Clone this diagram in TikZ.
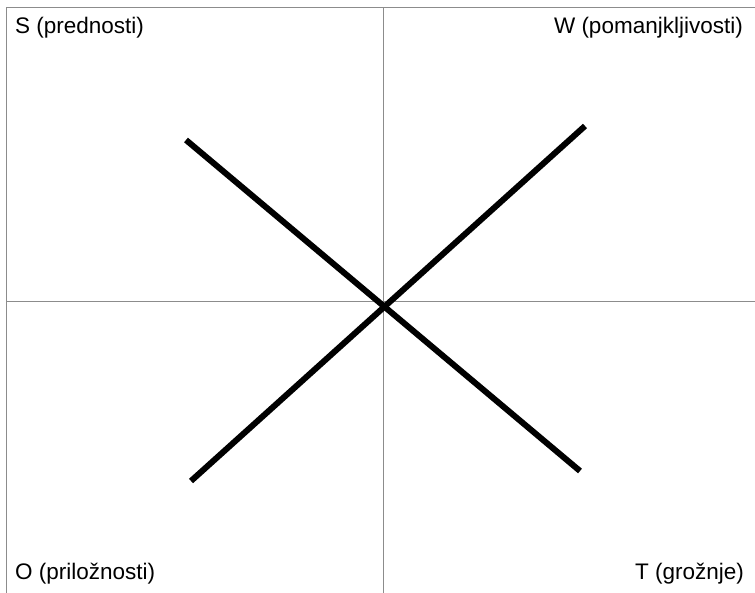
\documentclass[tikz,border=0pt]{standalone}
\usepackage{fontspec}
\setmainfont{Liberation Sans}
\begin{document}
\begin{tikzpicture}[x=1pt,y=-1pt,
  grid/.style={draw=gray!90,line width=1pt},
  cross/.style={draw=black,line width=6pt},
  lab/.style={inner sep=0pt,font=\fontsize{22.5}{27}\selectfont}]
\useasboundingbox (0,0) rectangle (755,593);
\coordinate (tl) at (6,8);
\coordinate (tr) at (755,8);
\coordinate (bl) at (6,593);
\coordinate (mt) at (383,8);
\coordinate (mb) at (383,593);
\coordinate (ml) at (6,302);
\coordinate (mr) at (755,302);
\draw[grid] (tl) -- (tr);
\draw[grid] (tl) -- (bl);
\draw[grid] (mt) -- (mb);
\draw[grid] (ml) -- (mr);
\coordinate (a1) at (186,140);
\coordinate (a2) at (580,471);
\coordinate (b1) at (191,481);
\coordinate (b2) at (585,126);
\draw[cross] (a1) -- (a2);
\draw[cross] (b1) -- (b2);
\node[lab,anchor=base west] (s) at (15,34) {S (prednosti)};
\node[lab,anchor=base east] (w) at (743,34) {W (pomanjkljivosti)};
\node[lab,anchor=base west] (o) at (15,579) {O (priložnosti)};
\node[lab,anchor=base east] (t) at (744,579) {T (grožnje)};
\end{tikzpicture}
\end{document}
